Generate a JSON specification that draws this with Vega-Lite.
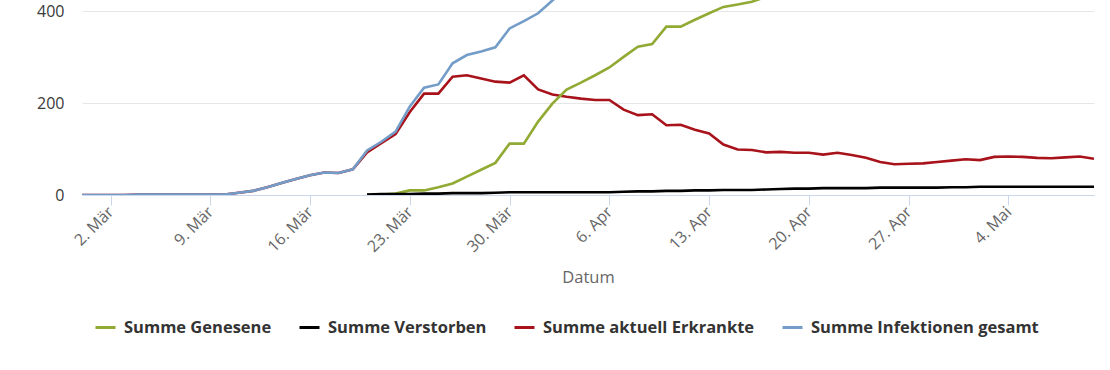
{
  "$schema": "https://vega.github.io/schema/vega-lite/v6.json",
  "width": 1012,
  "height": 195,
  "autosize": "none",
  "padding": {"left": 82, "top": 0, "right": 16, "bottom": 175},
  "background": "white",
  "config": {"view": {"stroke": null}, "font": "Open Sans"},
  "data": {
    "values": [
      {"Datum": "2020-02-29", "Summe aktuell Erkrankte": 0, "Summe Infektionen gesamt": 0},
      {"Datum": "2020-03-01", "Summe aktuell Erkrankte": 0, "Summe Infektionen gesamt": 0},
      {"Datum": "2020-03-02", "Summe aktuell Erkrankte": 0, "Summe Infektionen gesamt": 0},
      {"Datum": "2020-03-03", "Summe aktuell Erkrankte": 0, "Summe Infektionen gesamt": 0},
      {"Datum": "2020-03-04", "Summe aktuell Erkrankte": 1, "Summe Infektionen gesamt": 1},
      {"Datum": "2020-03-05", "Summe aktuell Erkrankte": 1, "Summe Infektionen gesamt": 1},
      {"Datum": "2020-03-06", "Summe aktuell Erkrankte": 1, "Summe Infektionen gesamt": 1},
      {"Datum": "2020-03-07", "Summe aktuell Erkrankte": 1, "Summe Infektionen gesamt": 1},
      {"Datum": "2020-03-08", "Summe aktuell Erkrankte": 1, "Summe Infektionen gesamt": 1},
      {"Datum": "2020-03-09", "Summe aktuell Erkrankte": 1, "Summe Infektionen gesamt": 1},
      {"Datum": "2020-03-10", "Summe aktuell Erkrankte": 1, "Summe Infektionen gesamt": 1},
      {"Datum": "2020-03-11", "Summe aktuell Erkrankte": 5, "Summe Infektionen gesamt": 5},
      {"Datum": "2020-03-12", "Summe aktuell Erkrankte": 9, "Summe Infektionen gesamt": 9},
      {"Datum": "2020-03-13", "Summe aktuell Erkrankte": 17, "Summe Infektionen gesamt": 17},
      {"Datum": "2020-03-14", "Summe aktuell Erkrankte": 26, "Summe Infektionen gesamt": 26},
      {"Datum": "2020-03-15", "Summe aktuell Erkrankte": 35, "Summe Infektionen gesamt": 35},
      {"Datum": "2020-03-16", "Summe aktuell Erkrankte": 43, "Summe Infektionen gesamt": 43},
      {"Datum": "2020-03-17", "Summe aktuell Erkrankte": 49, "Summe Infektionen gesamt": 49},
      {"Datum": "2020-03-18", "Summe aktuell Erkrankte": 48, "Summe Infektionen gesamt": 48},
      {"Datum": "2020-03-19", "Summe aktuell Erkrankte": 56, "Summe Infektionen gesamt": 56},
      {"Datum": "2020-03-20", "Summe Genesene": 1, "Summe Verstorben": 1, "Summe aktuell Erkrankte": 93, "Summe Infektionen gesamt": 97},
      {"Datum": "2020-03-21", "Summe Genesene": 1, "Summe Verstorben": 2, "Summe aktuell Erkrankte": 113, "Summe Infektionen gesamt": 116},
      {"Datum": "2020-03-22", "Summe Genesene": 3, "Summe Verstorben": 2, "Summe aktuell Erkrankte": 133, "Summe Infektionen gesamt": 138},
      {"Datum": "2020-03-23", "Summe Genesene": 10, "Summe Verstorben": 2, "Summe aktuell Erkrankte": 181, "Summe Infektionen gesamt": 193},
      {"Datum": "2020-03-24", "Summe Genesene": 10, "Summe Verstorben": 3, "Summe aktuell Erkrankte": 221, "Summe Infektionen gesamt": 234},
      {"Datum": "2020-03-25", "Summe Genesene": 17, "Summe Verstorben": 3, "Summe aktuell Erkrankte": 221, "Summe Infektionen gesamt": 241},
      {"Datum": "2020-03-26", "Summe Genesene": 25, "Summe Verstorben": 4, "Summe aktuell Erkrankte": 258, "Summe Infektionen gesamt": 287},
      {"Datum": "2020-03-27", "Summe Genesene": 40, "Summe Verstorben": 4, "Summe aktuell Erkrankte": 261, "Summe Infektionen gesamt": 305},
      {"Datum": "2020-03-28", "Summe Genesene": 55, "Summe Verstorben": 4, "Summe aktuell Erkrankte": 254, "Summe Infektionen gesamt": 313},
      {"Datum": "2020-03-29", "Summe Genesene": 70, "Summe Verstorben": 5, "Summe aktuell Erkrankte": 247, "Summe Infektionen gesamt": 322},
      {"Datum": "2020-03-30", "Summe Genesene": 112, "Summe Verstorben": 6, "Summe aktuell Erkrankte": 245, "Summe Infektionen gesamt": 363},
      {"Datum": "2020-03-31", "Summe Genesene": 112, "Summe Verstorben": 6, "Summe aktuell Erkrankte": 261, "Summe Infektionen gesamt": 379},
      {"Datum": "2020-04-01", "Summe Genesene": 160, "Summe Verstorben": 6, "Summe aktuell Erkrankte": 230, "Summe Infektionen gesamt": 396},
      {"Datum": "2020-04-02", "Summe Genesene": 199, "Summe Verstorben": 6, "Summe aktuell Erkrankte": 219, "Summe Infektionen gesamt": 424},
      {"Datum": "2020-04-03", "Summe Genesene": 230, "Summe Verstorben": 6, "Summe aktuell Erkrankte": 214, "Summe Infektionen gesamt": 450},
      {"Datum": "2020-04-04", "Summe Genesene": 245, "Summe Verstorben": 6, "Summe aktuell Erkrankte": 210, "Summe Infektionen gesamt": 461},
      {"Datum": "2020-04-05", "Summe Genesene": 261, "Summe Verstorben": 6, "Summe aktuell Erkrankte": 207, "Summe Infektionen gesamt": 474},
      {"Datum": "2020-04-06", "Summe Genesene": 278, "Summe Verstorben": 6, "Summe aktuell Erkrankte": 207, "Summe Infektionen gesamt": 491},
      {"Datum": "2020-04-07", "Summe Genesene": 301, "Summe Verstorben": 7, "Summe aktuell Erkrankte": 186, "Summe Infektionen gesamt": 494},
      {"Datum": "2020-04-08", "Summe Genesene": 323, "Summe Verstorben": 8, "Summe aktuell Erkrankte": 174, "Summe Infektionen gesamt": 505},
      {"Datum": "2020-04-09", "Summe Genesene": 329, "Summe Verstorben": 8, "Summe aktuell Erkrankte": 176, "Summe Infektionen gesamt": 513},
      {"Datum": "2020-04-10", "Summe Genesene": 367, "Summe Verstorben": 9, "Summe aktuell Erkrankte": 152, "Summe Infektionen gesamt": 528},
      {"Datum": "2020-04-11", "Summe Genesene": 367, "Summe Verstorben": 9, "Summe aktuell Erkrankte": 153, "Summe Infektionen gesamt": 529},
      {"Datum": "2020-04-12", "Summe Genesene": 382, "Summe Verstorben": 10, "Summe aktuell Erkrankte": 142, "Summe Infektionen gesamt": 534},
      {"Datum": "2020-04-13", "Summe Genesene": 396, "Summe Verstorben": 10, "Summe aktuell Erkrankte": 134, "Summe Infektionen gesamt": 540},
      {"Datum": "2020-04-14", "Summe Genesene": 410, "Summe Verstorben": 11, "Summe aktuell Erkrankte": 110, "Summe Infektionen gesamt": 542},
      {"Datum": "2020-04-15", "Summe Genesene": 415, "Summe Verstorben": 11, "Summe aktuell Erkrankte": 99, "Summe Infektionen gesamt": 545},
      {"Datum": "2020-04-16", "Summe Genesene": 421, "Summe Verstorben": 11, "Summe aktuell Erkrankte": 98, "Summe Infektionen gesamt": 548},
      {"Datum": "2020-04-17", "Summe Genesene": 432, "Summe Verstorben": 12, "Summe aktuell Erkrankte": 93, "Summe Infektionen gesamt": 550},
      {"Datum": "2020-04-18", "Summe Genesene": 438, "Summe Verstorben": 13, "Summe aktuell Erkrankte": 94, "Summe Infektionen gesamt": 553},
      {"Datum": "2020-04-19", "Summe Genesene": 443, "Summe Verstorben": 14, "Summe aktuell Erkrankte": 92, "Summe Infektionen gesamt": 556},
      {"Datum": "2020-04-20", "Summe Genesene": 447, "Summe Verstorben": 14, "Summe aktuell Erkrankte": 92, "Summe Infektionen gesamt": 559},
      {"Datum": "2020-04-21", "Summe Genesene": 452, "Summe Verstorben": 15, "Summe aktuell Erkrankte": 88, "Summe Infektionen gesamt": 562},
      {"Datum": "2020-04-22", "Summe Genesene": 455, "Summe Verstorben": 15, "Summe aktuell Erkrankte": 92, "Summe Infektionen gesamt": 565},
      {"Datum": "2020-04-23", "Summe Genesene": 460, "Summe Verstorben": 15, "Summe aktuell Erkrankte": 87, "Summe Infektionen gesamt": 568},
      {"Datum": "2020-04-24", "Summe Genesene": 466, "Summe Verstorben": 15, "Summe aktuell Erkrankte": 81, "Summe Infektionen gesamt": 571},
      {"Datum": "2020-04-25", "Summe Genesene": 475, "Summe Verstorben": 16, "Summe aktuell Erkrankte": 72, "Summe Infektionen gesamt": 574},
      {"Datum": "2020-04-26", "Summe Genesene": 481, "Summe Verstorben": 16, "Summe aktuell Erkrankte": 67, "Summe Infektionen gesamt": 577},
      {"Datum": "2020-04-27", "Summe Genesene": 483, "Summe Verstorben": 16, "Summe aktuell Erkrankte": 68, "Summe Infektionen gesamt": 580},
      {"Datum": "2020-04-28", "Summe Genesene": 485, "Summe Verstorben": 16, "Summe aktuell Erkrankte": 69, "Summe Infektionen gesamt": 583},
      {"Datum": "2020-04-29", "Summe Genesene": 487, "Summe Verstorben": 16, "Summe aktuell Erkrankte": 72, "Summe Infektionen gesamt": 586},
      {"Datum": "2020-04-30", "Summe Genesene": 489, "Summe Verstorben": 17, "Summe aktuell Erkrankte": 75, "Summe Infektionen gesamt": 589},
      {"Datum": "2020-05-01", "Summe Genesene": 491, "Summe Verstorben": 17, "Summe aktuell Erkrankte": 78, "Summe Infektionen gesamt": 592},
      {"Datum": "2020-05-02", "Summe Genesene": 495, "Summe Verstorben": 18, "Summe aktuell Erkrankte": 76, "Summe Infektionen gesamt": 595},
      {"Datum": "2020-05-03", "Summe Genesene": 495, "Summe Verstorben": 18, "Summe aktuell Erkrankte": 83, "Summe Infektionen gesamt": 598},
      {"Datum": "2020-05-04", "Summe Genesene": 497, "Summe Verstorben": 18, "Summe aktuell Erkrankte": 84, "Summe Infektionen gesamt": 601},
      {"Datum": "2020-05-05", "Summe Genesene": 500, "Summe Verstorben": 18, "Summe aktuell Erkrankte": 83, "Summe Infektionen gesamt": 604},
      {"Datum": "2020-05-06", "Summe Genesene": 503, "Summe Verstorben": 18, "Summe aktuell Erkrankte": 81, "Summe Infektionen gesamt": 607},
      {"Datum": "2020-05-07", "Summe Genesene": 506, "Summe Verstorben": 18, "Summe aktuell Erkrankte": 80, "Summe Infektionen gesamt": 610},
      {"Datum": "2020-05-08", "Summe Genesene": 507, "Summe Verstorben": 18, "Summe aktuell Erkrankte": 82, "Summe Infektionen gesamt": 613},
      {"Datum": "2020-05-09", "Summe Genesene": 508, "Summe Verstorben": 18, "Summe aktuell Erkrankte": 84, "Summe Infektionen gesamt": 616},
      {"Datum": "2020-05-10", "Summe Genesene": 515, "Summe Verstorben": 18, "Summe aktuell Erkrankte": 79, "Summe Infektionen gesamt": 619}
    ]
  },
  "transform": [
    {"fold": ["Summe Genesene", "Summe Verstorben", "Summe aktuell Erkrankte", "Summe Infektionen gesamt"], "as": ["Serie", "Wert"]},
    {"filter": "isValid(datum.Wert)"}
  ],
  "mark": {"type": "line", "strokeWidth": 2.6, "clip": true},
  "encoding": {
    "x": {
      "field": "Datum",
      "type": "temporal",
      "scale": {
        "type": "utc",
        "domain": [
          {"year": 2020, "month": 2, "date": 29, "utc": true},
          {"year": 2020, "month": 5, "date": 10, "utc": true}
        ]
      },
      "axis": {
        "title": "Datum",
        "titleFont": "Open Sans",
        "titleFontSize": 16.5,
        "titleFontWeight": "normal",
        "titleColor": "#666666",
        "titlePadding": 15,
        "values": [
          {"year": 2020, "month": 3, "date": 2, "utc": true},
          {"year": 2020, "month": 3, "date": 9, "utc": true},
          {"year": 2020, "month": 3, "date": 16, "utc": true},
          {"year": 2020, "month": 3, "date": 23, "utc": true},
          {"year": 2020, "month": 3, "date": 30, "utc": true},
          {"year": 2020, "month": 4, "date": 6, "utc": true},
          {"year": 2020, "month": 4, "date": 13, "utc": true},
          {"year": 2020, "month": 4, "date": 20, "utc": true},
          {"year": 2020, "month": 4, "date": 27, "utc": true},
          {"year": 2020, "month": 5, "date": 4, "utc": true}
        ],
        "labelExpr": "utcdate(datum.value) + '. ' + ['Jan','Feb','Mär','Apr','Mai','Jun','Jul','Aug','Sep','Okt','Nov','Dez'][utcmonth(datum.value)]",
        "labelAngle": -45,
        "labelAlign": "right",
        "labelBaseline": "middle",
        "labelFont": "Open Sans",
        "labelFontSize": 16,
        "labelColor": "#666666",
        "labelPadding": 4,
        "labelOverlap": false,
        "labelFlush": false,
        "grid": false,
        "domainColor": "#ccd6eb",
        "tickColor": "#ccd6eb",
        "tickSize": 10
      }
    },
    "y": {
      "field": "Wert",
      "type": "quantitative",
      "scale": {"domain": [0, 425], "nice": false},
      "axis": {
        "title": null,
        "values": [0, 200, 400],
        "labelFont": "Open Sans",
        "labelFontSize": 16,
        "labelColor": "#3a3a3a",
        "labelPadding": 18,
        "ticks": false,
        "domain": false,
        "gridColor": "#e6e6e6",
        "labelFlush": false
      }
    },
    "color": {
      "field": "Serie",
      "type": "nominal",
      "scale": {
        "domain": ["Summe Genesene", "Summe Verstorben", "Summe aktuell Erkrankte", "Summe Infektionen gesamt"],
        "range": ["#90aa34", "#000000", "#a8121a", "#739dc8"]
      },
      "legend": {
        "title": null,
        "orient": "none",
        "legendX": 12,
        "legendY": 316,
        "direction": "horizontal",
        "columns": 4,
        "symbolType": "stroke",
        "symbolSize": 400,
        "symbolStrokeWidth": 3,
        "labelFont": "Open Sans",
        "labelFontSize": 16.5,
        "labelFontWeight": "bold",
        "labelColor": "#333333",
        "labelOffset": 7,
        "columnPadding": 21,
        "labelLimit": 400
      }
    }
  }
}
